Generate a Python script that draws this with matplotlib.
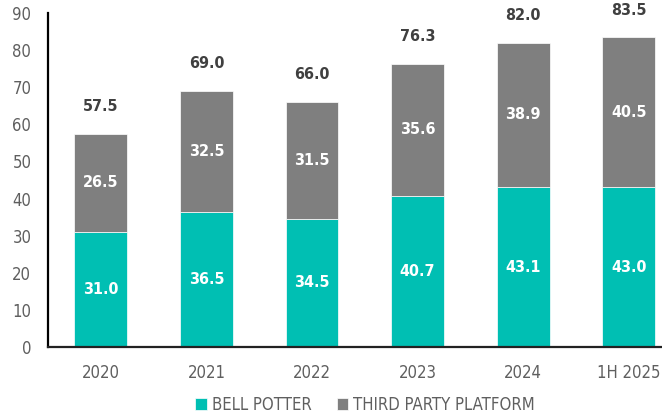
import matplotlib.pyplot as plt
import numpy as np

# data
years = ["2020", "2021", "2022", "2023", "2024", "1H 2025"]
bell_potter = [31.0, 36.5, 34.5, 40.7, 43.1, 43.0]
third_party = [26.5, 32.5, 31.5, 35.6, 38.9, 40.5]
totals = [57.5, 69.0, 66.0, 76.3, 82.0, 83.5]

teal = "#00BFB3"
grey = "#7F7F7F"
txt = "#5F5F5F"

plt.rcParams['font.family'] = ['DejaVu Sans']
plt.rcParams['font.stretch'] = 'condensed'

fig = plt.figure(figsize=(6.62, 4.17), dpi=100)
ax = fig.add_axes([48 / 662, 1 - 347 / 417, 1 - 48 / 662, (347 - 13) / 417])

x = np.arange(len(years))
b1 = ax.bar(x, bell_potter, width=0.5, color=teal, edgecolor="white", linewidth=0.5,
            label="BELL POTTER")
b2 = ax.bar(x, third_party, width=0.5, bottom=bell_potter, color=grey, edgecolor="white",
            linewidth=0.5, label="THIRD PARTY PLATFORM")

ax.bar_label(b1, labels=[f"{v:.1f}" for v in bell_potter], label_type="center",
             color="white", fontsize=11.5, fontweight="bold")
ax.bar_label(b2, labels=[f"{v:.1f}" for v in third_party], label_type="center",
             color="white", fontsize=11.5, fontweight="bold")
for xi, t in zip(x, totals):
    ax.annotate(f"{t:.1f}", (xi, t), xytext=(0, 19.5), textcoords="offset points",
                ha="center", va="center", color="#404040", fontsize=11.5, fontweight="bold")

ax.set_xlim(-0.5, 5.315)
ax.set_ylim(0, 90)
ax.set_yticks(range(0, 91, 10))
ax.set_xticks(x)
ax.set_xticklabels(years)
ax.tick_params(axis="both", length=0, colors=txt, labelsize=12)
ax.tick_params(axis="y", pad=12)
ax.tick_params(axis="x", pad=12)

for s in ["top", "right"]:
    ax.spines[s].set_visible(False)
ax.spines["left"].set_linewidth(1.6)
ax.spines["left"].set_color("black")
ax.spines["bottom"].set_linewidth(1.6)
ax.spines["bottom"].set_color("#222222")

leg = ax.legend(loc="center", bbox_to_anchor=(365 / 662, 1 - 405 / 417),
                bbox_transform=fig.transFigure, ncol=2, frameon=False,
                fontsize=12, handlelength=0.7, handleheight=0.7, handletextpad=0.3,
                columnspacing=1.5, labelcolor=txt)

fig.savefig("out.png", dpi=100)
